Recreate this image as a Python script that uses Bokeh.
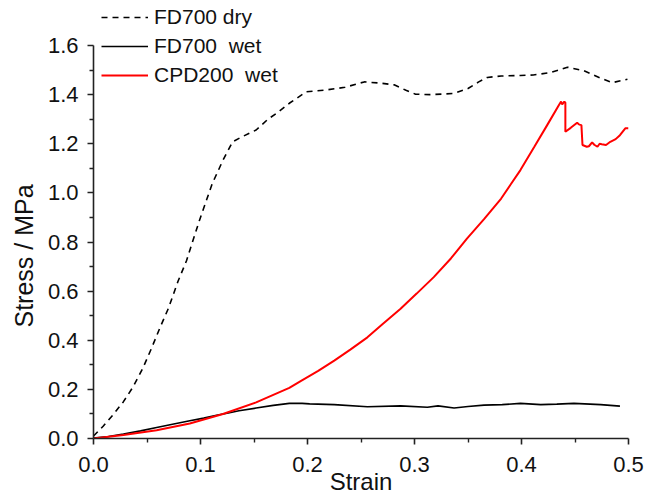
from bokeh.plotting import figure
from bokeh.models import Range1d, FixedTicker, PrintfTickFormatter, Title
from bokeh.embed import file_html
from bokeh.resources import INLINE

# ---- data ----
strain_dry = [0.0, 0.009, 0.018, 0.028, 0.037, 0.046, 0.054, 0.062, 0.07, 0.079,
              0.087, 0.099, 0.111, 0.121, 0.13, 0.139, 0.152, 0.163, 0.171, 0.183,
              0.199, 0.217, 0.235, 0.253, 0.268, 0.281, 0.292, 0.301, 0.315, 0.337,
              0.35, 0.36, 0.368, 0.381, 0.399, 0.411, 0.427, 0.443, 0.458, 0.474,
              0.485, 0.499]
stress_dry = [0.01, 0.05, 0.095, 0.15, 0.21, 0.285, 0.365, 0.45, 0.53, 0.64,
              0.725, 0.888, 1.038, 1.133, 1.208, 1.229, 1.256, 1.30, 1.324, 1.365,
              1.412, 1.419, 1.43, 1.452, 1.447, 1.44, 1.418, 1.402, 1.40, 1.405,
              1.425, 1.452, 1.47, 1.476, 1.478, 1.48, 1.49, 1.512, 1.498, 1.467,
              1.449, 1.463]

strain_wet = [0.0, 0.014, 0.028, 0.044, 0.059, 0.075, 0.09, 0.103, 0.115, 0.126,
              0.136, 0.152, 0.168, 0.183, 0.195, 0.202, 0.225, 0.256, 0.287, 0.312,
              0.322, 0.337, 0.35, 0.365, 0.382, 0.399, 0.418, 0.433, 0.449, 0.474,
              0.492]
stress_wet = [0.002, 0.008, 0.018, 0.031, 0.045, 0.059, 0.072, 0.083, 0.095, 0.104,
              0.113, 0.124, 0.135, 0.143, 0.143, 0.141, 0.138, 0.129, 0.133, 0.127,
              0.133, 0.124, 0.13, 0.136, 0.138, 0.143, 0.138, 0.14, 0.143, 0.138,
              0.132]

strain_cpd = [0.0, 0.028, 0.059, 0.09, 0.121, 0.152, 0.183, 0.194, 0.21, 0.225,
              0.24, 0.256, 0.27, 0.287, 0.302, 0.318, 0.334, 0.349, 0.365, 0.381,
              0.39, 0.399, 0.412, 0.424, 0.435, 0.437, 0.438, 0.44, 0.441, 0.441,
              0.446, 0.452, 0.454, 0.456, 0.457, 0.461, 0.463, 0.466, 0.468, 0.471,
              0.473, 0.475, 0.479, 0.483, 0.488, 0.492, 0.497, 0.5]
stress_cpd = [0.0, 0.014, 0.034, 0.061, 0.1, 0.147, 0.206, 0.235, 0.275, 0.317,
              0.362, 0.412, 0.465, 0.528, 0.59, 0.657, 0.733, 0.814, 0.893, 0.977,
              1.035, 1.093, 1.188, 1.276, 1.358, 1.372, 1.36, 1.372, 1.367, 1.249,
              1.265, 1.286, 1.278, 1.276, 1.195, 1.188, 1.19, 1.206, 1.196, 1.188,
              1.2, 1.198, 1.195, 1.208, 1.219, 1.235, 1.263, 1.263]

x_ticks = [0.0, 0.1, 0.2, 0.3, 0.4, 0.5]
x_minor = [0.05, 0.15, 0.25, 0.35, 0.45]
y_ticks = [0.0, 0.2, 0.4, 0.6, 0.8, 1.0, 1.2, 1.4, 1.6]
y_minor = [0.1, 0.3, 0.5, 0.7, 0.9, 1.1, 1.3, 1.5]

labels = ["FD700 dry", "FD700  wet", "CPD200  wet"]

FONT = "Liberation Sans"

p = figure(width=645, height=497, output_backend="svg", toolbar_location=None,
           x_range=Range1d(0, 0.5), y_range=Range1d(0, 1.759),
           min_border_left=92, min_border_right=17, min_border_top=6,
           min_border_bottom=59)
p.outline_line_color = None
p.grid.visible = False
p.background_fill_color = "white"
p.border_fill_color = "white"

p.line(strain_dry, stress_dry, line_color="black", line_width=1.6,
       line_dash="6 5", legend_label=labels[0])
p.line(strain_wet, stress_wet, line_color="black", line_width=1.6,
       legend_label=labels[1])
p.line(strain_cpd, stress_cpd, line_color="#ff0000", line_width=2,
       legend_label=labels[2])

for ax, ticks, minor in ((p.xaxis[0], x_ticks, x_minor), (p.yaxis[0], y_ticks, y_minor)):
    ax.ticker = FixedTicker(ticks=ticks, minor_ticks=minor)
    ax.formatter = PrintfTickFormatter(format="%.1f")
    ax.axis_line_color = "#222222"
    ax.axis_line_width = 1.6
    ax.major_tick_line_color = "#222222"
    ax.major_tick_line_width = 1.6
    ax.minor_tick_line_color = "#222222"
    ax.minor_tick_line_width = 1.4
    ax.major_tick_in = 0
    ax.major_tick_out = 6
    ax.minor_tick_in = 0
    ax.minor_tick_out = 4
    ax.major_label_text_font = FONT
    ax.major_label_text_font_size = "22px"
    ax.major_label_text_color = "#111111"
    ax.axis_label_text_font = FONT
    ax.axis_label_text_font_size = "24px"
    ax.axis_label_text_font_style = "normal"
    ax.axis_label_text_color = "#111111"

p.yaxis.bounds = (0, 1.6)
p.xaxis.axis_label = "Strain"
p.xaxis.major_label_standoff = 12
p.xaxis.axis_label_standoff = -7
p.yaxis.major_label_standoff = 9

ytitle = Title(text="Stress / MPa", align="left", offset=111,
               text_font=FONT, text_font_size="25px", text_font_style="normal",
               text_color="#111111", standoff=14)
p.add_layout(ytitle, "left")

lg = p.legend[0]
lg.location = (8, 351)
lg.border_line_color = None
lg.background_fill_alpha = 0
lg.padding = 0
lg.margin = 0
lg.spacing = 5
lg.glyph_width = 47
lg.glyph_height = 20
lg.label_height = 20
lg.label_standoff = 6
lg.label_text_font = FONT
lg.label_text_font_size = "21px"
lg.label_text_color = "#111111"

open("out.html", "w").write(file_html(p, INLINE))
